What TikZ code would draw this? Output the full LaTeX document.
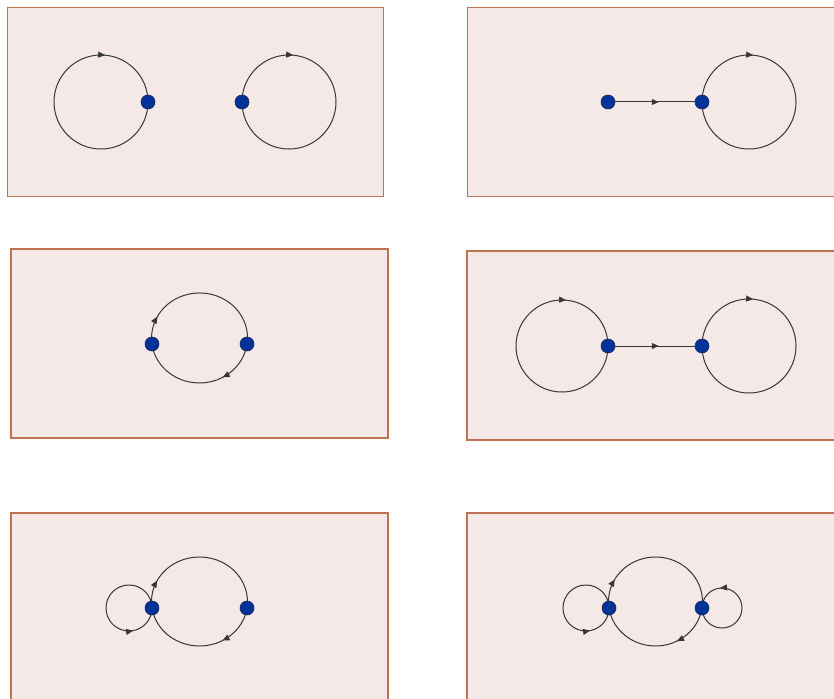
\documentclass[tikz,border=0pt]{standalone}
\usetikzlibrary{arrows.meta,decorations.markings}

\definecolor{panelfill}{HTML}{F4E9E6}
\definecolor{panelline}{HTML}{C0714F}
\definecolor{dotfill}{HTML}{003399}
\definecolor{dotline}{HTML}{1A2550}
\definecolor{edgecol}{HTML}{363636}

\pgfdeclarelayer{panels}
\pgfdeclarelayer{edges}
\pgfsetlayers{panels,edges,main}

\tikzset{
  panel/.style={fill=panelfill, draw=panelline, line width=#1},
  vertex/.style={circle, fill=dotfill, draw=dotline, line width=0.6pt,
                 minimum size=14pt, inner sep=0pt},
  edge/.style={draw=edgecol, line width=1pt},
  midarrow/.style={postaction={decorate},
    decoration={markings, mark=at position #1 with
      {\arrow{Triangle[length=7pt,width=6pt]}}}},
}

\begin{document}
\begin{tikzpicture}[x=1pt,y=-1pt]
\useasboundingbox (0,0) rectangle (834,698);

% ---------- vertices ----------
% panel 1
\node[vertex] (a1) at (148,102) {};
\node[vertex] (a2) at (242,102) {};
% panel 2
\node[vertex] (b1) at (608,102) {};
\node[vertex] (b2) at (702,102) {};
% panel 3
\node[vertex] (c1) at (152,344) {};
\node[vertex] (c2) at (247,344) {};
% panel 4
\node[vertex] (d1) at (608,346) {};
\node[vertex] (d2) at (702,346) {};
% panel 5
\node[vertex] (e1) at (152,608) {};
\node[vertex] (e2) at (247,608) {};
% panel 6
\node[vertex] (f1) at (609,608) {};
\node[vertex] (f2) at (702,608) {};

% ---------- panels ----------
\begin{pgfonlayer}{panels}
  \draw[panel=1pt]   (7,8)    rectangle (383,196);
  \draw[panel=1pt]   (467,8)  rectangle (845,196);
  \draw[panel=1.8pt] (11,249) rectangle (388,438);
  \draw[panel=1.8pt] (467,251) rectangle (845,440);
  \draw[panel=1.8pt] (11,513) rectangle (388,715);
  \draw[panel=1.8pt] (467,513) rectangle (845,715);
\end{pgfonlayer}

% ---------- edges ----------
\begin{pgfonlayer}{edges}
  % panel 1: two separate self-loops
  \draw[edge, midarrow=0.764] (a1.center) arc[start angle=0, end angle=360, radius=47];
  \draw[edge, midarrow=0.264] (a2.center) arc[start angle=180, end angle=540, radius=47];

  % panel 2: edge into a looped vertex
  \draw[edge, midarrow=0.54] (b1.center) -- (b2.center);
  \draw[edge, midarrow=0.264] (b2.center) arc[start angle=180, end angle=540, radius=47];

  % panel 3: two-cycle
  \draw[edge, midarrow=0.18] (c1.center) arc[start angle=172.3, end angle=367.7, x radius=48, y radius=45];
  \draw[edge, midarrow=0.32] (c2.center) arc[start angle=7.7, end angle=172.3, x radius=48, y radius=45];

  % panel 4: two looped vertices joined by an edge
  \draw[edge, midarrow=0.764] (d1.center) arc[start angle=0, end angle=360, radius=46];
  \draw[edge, midarrow=0.54] (d1.center) -- (d2.center);
  \draw[edge, midarrow=0.264] (d2.center) arc[start angle=180, end angle=540, radius=47];

  % panel 5: two-cycle with a loop on the left vertex
  \draw[edge, midarrow=0.778] (e1.center) arc[start angle=0, end angle=-360, radius=23];
  \draw[edge, midarrow=0.18] (e1.center) arc[start angle=171.6, end angle=368.4, x radius=48, y radius=44.5];
  \draw[edge, midarrow=0.32] (e2.center) arc[start angle=8.4, end angle=171.6, x radius=48, y radius=44.5];

  % panel 6: two-cycle with loops on both vertices
  \draw[edge, midarrow=0.778] (f1.center) arc[start angle=0, end angle=-360, radius=23];
  \draw[edge, midarrow=0.19] (f1.center) arc[start angle=171.6, end angle=368.4, x radius=47, y radius=44.5];
  \draw[edge, midarrow=0.33] (f2.center) arc[start angle=8.4, end angle=171.6, x radius=47, y radius=44.5];
  \draw[edge, midarrow=0.766] (f2.center) arc[start angle=180, end angle=-180, radius=20];
\end{pgfonlayer}
\end{tikzpicture}
\end{document}
